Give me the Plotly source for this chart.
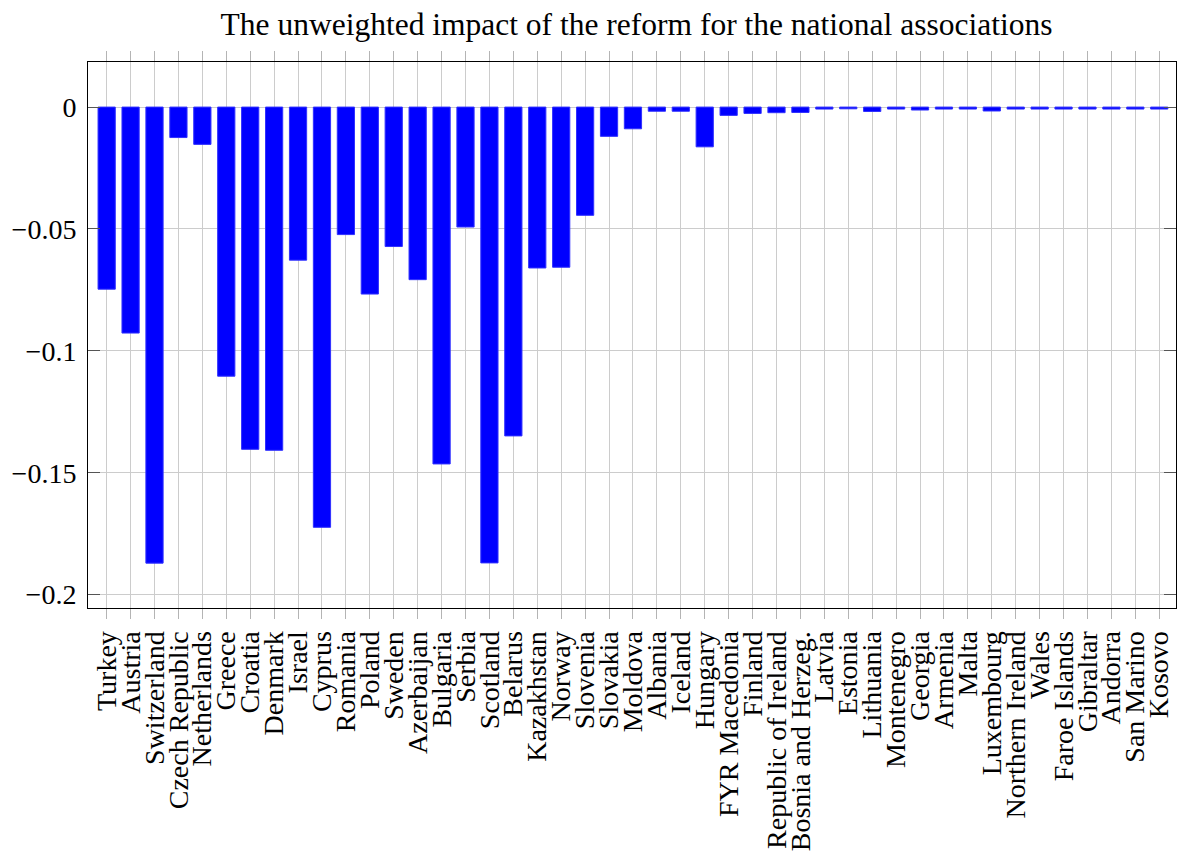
import plotly.graph_objects as go

countries = [
    "Turkey", "Austria", "Switzerland", "Czech Republic", "Netherlands", "Greece",
    "Croatia", "Denmark", "Israel", "Cyprus", "Romania", "Poland", "Sweden",
    "Azerbaijan", "Bulgaria", "Serbia", "Scotland", "Belarus", "Kazakhstan",
    "Norway", "Slovenia", "Slovakia", "Moldova", "Albania", "Iceland", "Hungary",
    "FYR Macedonia", "Finland", "Republic of Ireland", "Bosnia and Herzeg.",
    "Latvia", "Estonia", "Lithuania", "Montenegro", "Georgia", "Armenia", "Malta",
    "Luxembourg", "Northern Ireland", "Wales", "Faroe Islands", "Gibraltar",
    "Andorra", "San Marino", "Kosovo",
]

impact = [
    -0.0747, -0.0927, -0.1871, -0.0125, -0.0153, -0.1104,
    -0.1404, -0.1408, -0.0628, -0.1724, -0.0523, -0.0767, -0.0572,
    -0.0708, -0.1464, -0.0492, -0.1870, -0.1349, -0.0660,
    -0.0657, -0.0444, -0.0120, -0.0089, -0.0017, -0.0017, -0.0163,
    -0.0034, -0.0026, -0.0023, -0.0022,
    -0.0008, -0.0007, -0.0018, -0.0008, -0.0012, -0.0008, -0.0008,
    -0.0016, -0.0008, -0.0008, -0.0008, -0.0008,
    -0.0008, -0.0008, -0.0008,
]

y_ticks = [0, -0.05, -0.1, -0.15, -0.2]
y_tick_text = ["0", "\u22120.05", "\u22120.1", "\u22120.15", "\u22120.2"]

title_text = "The unweighted impact of the reform for the national associations"

FONT = "Liberation Serif, Times New Roman, serif"

fig = go.Figure()
fig.add_trace(go.Bar(
    x=countries,
    y=impact,
    width=0.72,
    marker=dict(color="#0000ff", line=dict(color="#3030ff", width=1)),
))

fig.update_layout(
    width=1177,
    height=857,
    margin=dict(l=88, r=1, t=62, b=249),
    paper_bgcolor="white",
    plot_bgcolor="white",
    showlegend=False,
    font=dict(family=FONT, size=28, color="black"),
    title=dict(
        text=title_text,
        x=0.5408,
        xanchor="center",
        y=0.972,
        yanchor="middle",
        font=dict(family=FONT, size=31.5, color="black"),
    ),
)

fig.update_xaxes(
    type="category",
    range=[-0.78, 44.7],
    tickmode="array",
    tickvals=countries,
    ticktext=countries,
    tickangle=-90,
    ticks="outside",
    ticklen=10,
    tickcolor="#b4b4b4",
    tickwidth=1,
    showgrid=True,
    gridcolor="#cccccc",
    gridwidth=1,
    showline=True,
    linecolor="black",
    linewidth=1,
    mirror="ticks",
    automargin=False,
    ticklabelstandoff=1,
    tickfont=dict(family=FONT, size=28, color="black"),
)

fig.update_yaxes(
    range=[-0.2055, 0.0185],
    tickvals=y_ticks,
    ticktext=y_tick_text,
    ticks="inside",
    ticklen=12,
    tickcolor="#555555",
    tickwidth=1,
    showgrid=True,
    gridcolor="#cccccc",
    gridwidth=1,
    zeroline=False,
    showline=True,
    linecolor="black",
    linewidth=1,
    mirror="ticks",
    automargin=False,
    ticklabelstandoff=5,
    tickfont=dict(family=FONT, size=28, color="black"),
)

fig.write_html(
    "out.html",
    config={"displayModeBar": False},
    post_script="document.body.style.margin='0';document.body.style.overflow='hidden';",
)
